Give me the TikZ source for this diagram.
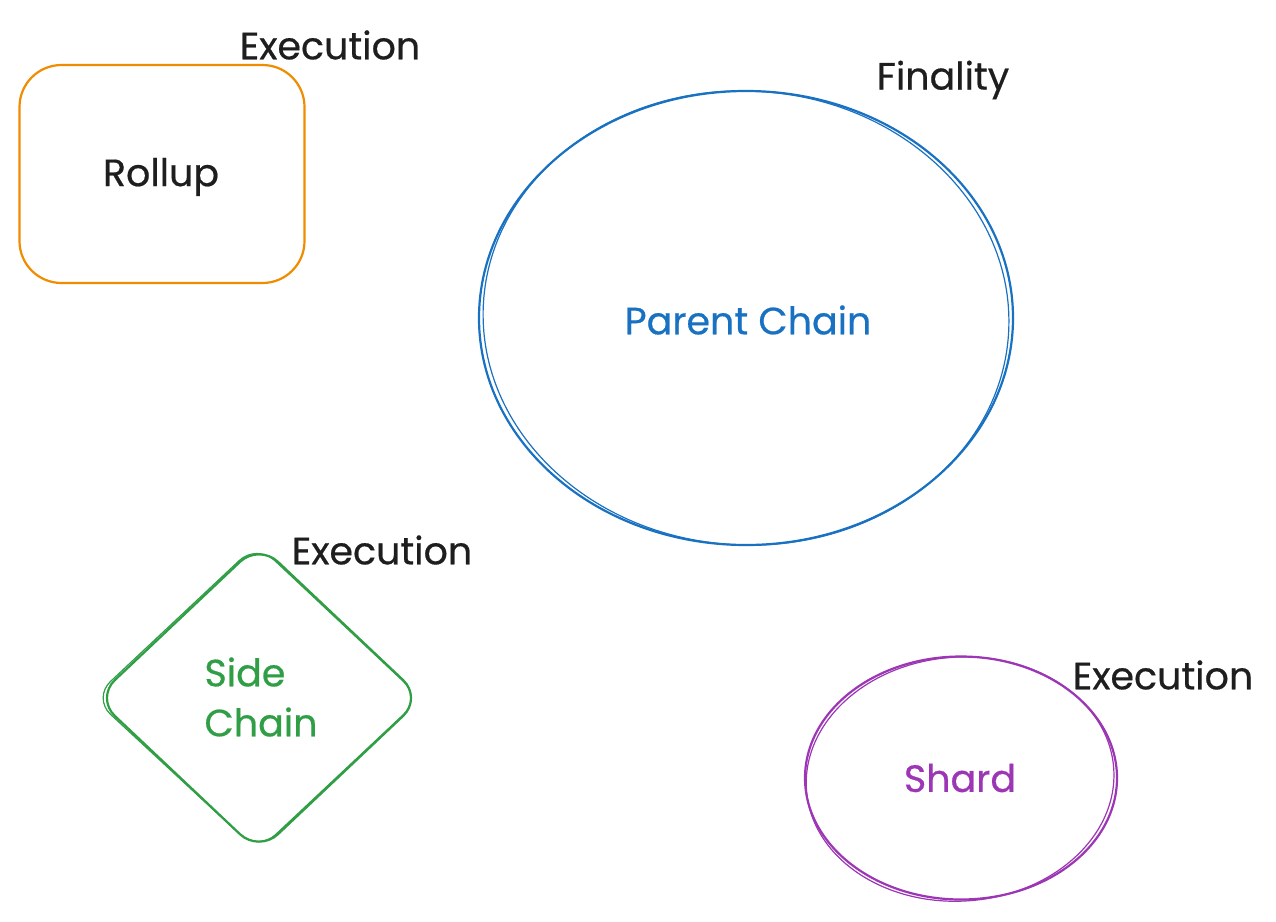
\documentclass[tikz,border=0pt]{standalone}
\usepackage{fontspec}
\setmainfont{Poppins}[FakeBold=0.5]
\usetikzlibrary{shapes.geometric}
\definecolor{exOrange}{HTML}{F08C00}
\definecolor{exBlue}{HTML}{1971C2}
\definecolor{exGreen}{HTML}{2F9E44}
\definecolor{exPurple}{HTML}{9C36B5}
\definecolor{exInk}{HTML}{1E1E1E}
\begin{document}
\begin{tikzpicture}[x=1pt,y=-1pt,
  lbl/.style={font=\fontsize{38}{46}\selectfont, text=exInk, inner sep=0pt},
  shapebox/.style={line width=2.2pt, inner sep=0pt},
  sketch/.style={line width=1.2pt}]
\useasboundingbox[fill=white] (0,0) rectangle (1276,921);
% Rollup
\node[shapebox, draw=exOrange, rectangle, rounded corners=42pt,
  minimum width=285pt, minimum height=218pt] (rollup) at (162,174) {};
\node[lbl] (rolluptxt) at (161,177) {Rollup};
\node[lbl] (exec1) at (330,45) {Execution};
% Parent chain
\node[shapebox, draw=exBlue, ellipse, minimum width=534pt, minimum height=454pt] (parent) at (746,318) {};
\draw[exBlue, sketch, rotate around={-3:(746,318)}] (746,318) ellipse [x radius=263pt, y radius=227pt];
\node[lbl, text=exBlue] (parenttxt) at (748,320) {Parent Chain};
\node[lbl] (finality) at (943,80) {Finality};
% Side chain
\node[shapebox, diamond, minimum width=324pt, minimum height=306pt] (side) at (259,698) {};
\draw[exGreen, line width=2.2pt, rounded corners=26pt] (side.north) -- (side.east) -- (side.south) -- (side.west) -- cycle;
\draw[exGreen, sketch, rounded corners=24pt] ([xshift=-2pt]side.north) -- ([xshift=-1pt]side.east) -- ([xshift=-1pt,yshift=1pt]side.south) -- ([xshift=-3pt]side.west) -- cycle;
\node[lbl, text=exGreen, align=left, font=\fontsize{38}{50}\selectfont] (sidetxt) at (261,697) {Side\\Chain};
\node[lbl] (exec2) at (382,550) {Execution};
% Shard
\node[shapebox, draw=exPurple, ellipse, minimum width=312pt, minimum height=243pt] (shard) at (961,778) {};
\draw[exPurple, sketch, rotate around={4:(961,778)}] (960,779) ellipse [x radius=154pt, y radius=122pt];
\node[lbl, text=exPurple] (shardtxt) at (960,778) {Shard};
\node[lbl] (exec3) at (1163,675) {Execution};
\end{tikzpicture}
\end{document}
